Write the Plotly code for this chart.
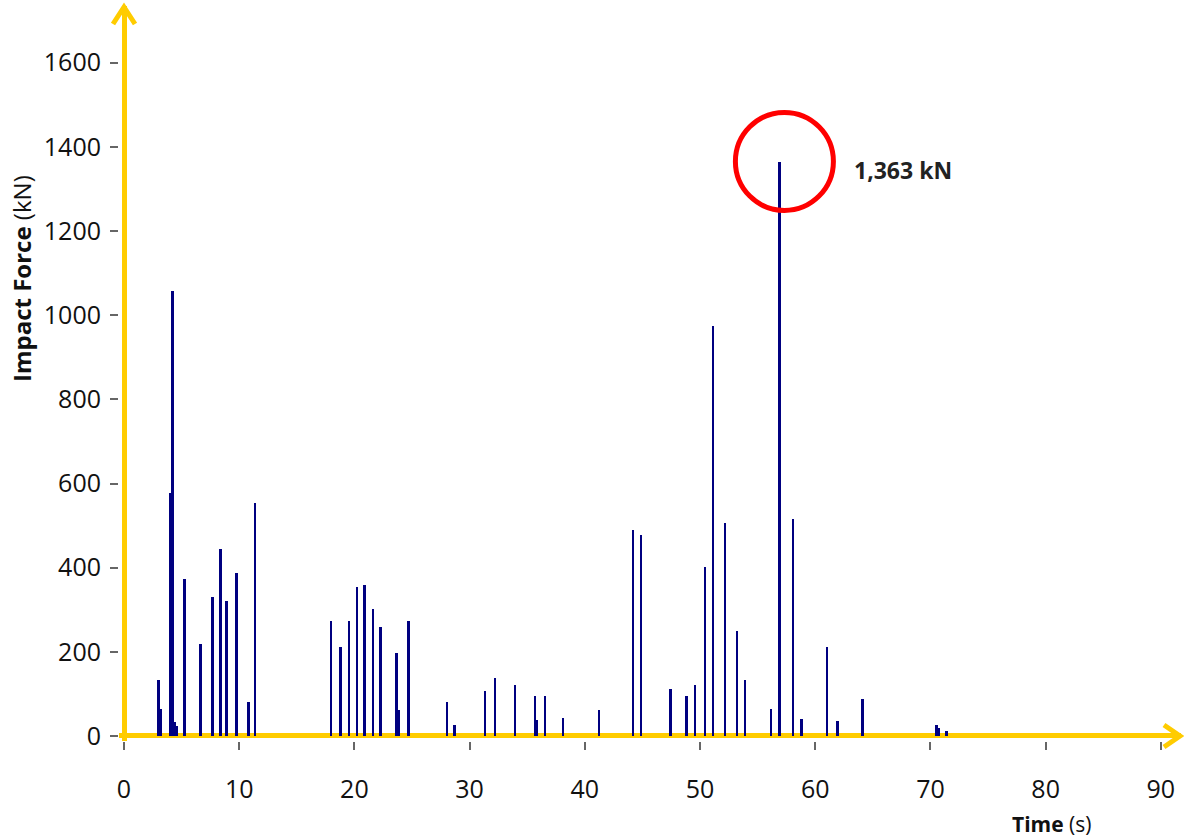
import plotly.graph_objects as go

# Pics d'effort d'impact (temps en s, effort en kN)
temps = [2.98, 3.18, 4.05, 4.19, 4.43, 4.57, 5.27, 6.63, 7.67, 8.36, 8.91, 9.75,
         10.79, 11.37, 17.97, 18.81, 19.53, 20.23, 20.89, 21.61, 22.28, 23.67,
         23.84, 24.71, 28.04, 28.71, 31.34, 32.20, 33.94, 35.68, 35.82, 36.55,
         38.11, 41.23, 44.18, 44.88, 47.45, 48.84, 49.57, 50.43, 51.13, 52.17,
         53.21, 53.91, 56.16, 56.89, 58.07, 58.80, 61.02, 61.92, 64.12, 70.54,
         70.70, 71.40]
effort = [132, 65, 578, 1057, 33, 24, 374, 218, 331, 445, 322, 388,
          80, 554, 274, 212, 274, 355, 359, 302, 260, 198,
          61, 274, 80, 27, 108, 137, 122, 94, 39, 94,
          42, 61, 490, 478, 112, 94, 122, 402, 975, 506,
          250, 132, 65, 1363, 516, 41, 212, 36, 89, 27,
          20, 13]

ticks_x = list(range(0, 91, 10))
ticks_y = list(range(0, 1601, 200))
label_pic = "1,363 kN"

JAUNE = "#FFCC00"
NAVY = "#000080"
POLICE = "Open Sans"

# géométrie (pixels)
W, H = 1184, 838
ML, MR, MT, MB = 119, 3, 6, 97
x_range = [-0.434, 91.75]
y_range = [-11.9, 1734.8]

fig = go.Figure()
fig.add_trace(go.Bar(
    x=temps, y=effort, width=0.22,
    marker=dict(color=NAVY, line=dict(width=0)),
    hoverinfo="x+y",
))

axe = dict(
    showgrid=False, showline=False, zeroline=True, automargin=False,
    zerolinecolor=JAUNE, zerolinewidth=5,
    ticks="outside", ticklen=8, tickwidth=1.5, tickcolor="#666666",
    tickfont=dict(family=POLICE, size=25, color="#111111"),
)
fig.update_xaxes(range=x_range, tickvals=ticks_x, ticklabelstandoff=18, **axe)
fig.update_yaxes(range=y_range, tickvals=ticks_y, ticklabelstandoff=4, **axe)

# pointes de flèche des axes (chevrons en pixels)
y0_paper = -y_range[0] / (y_range[1] - y_range[0])
x0_paper = -x_range[0] / (x_range[1] - x_range[0])
fig.add_shape(type="path", xref="paper", yref="paper",
              xsizemode="pixel", ysizemode="pixel",
              xanchor=1, yanchor=y0_paper,
              path="M -17,11 L -1,0 L -17,-11",
              line=dict(color=JAUNE, width=5), layer="above")
fig.add_shape(type="path", xref="paper", yref="paper",
              xsizemode="pixel", ysizemode="pixel",
              xanchor=x0_paper, yanchor=1,
              path="M -11,-18 L 0,-1 L 11,-18",
              line=dict(color=JAUNE, width=5), layer="above")

# cercle rouge autour du pic maximal
i_max = effort.index(max(effort))
fig.add_shape(type="circle", xref="x", yref="y",
              xsizemode="pixel", ysizemode="pixel",
              xanchor=temps[i_max], yanchor=effort[i_max],
              x0=-44, x1=54, y0=-48, y1=50,
              line=dict(color="#FF0000", width=5), layer="above")
fig.add_annotation(x=temps[i_max], y=effort[i_max], xref="x", yref="y",
                   text=f"<b>{label_pic}</b>", showarrow=False,
                   xanchor="left", yanchor="middle", xshift=73, yshift=-8,
                   font=dict(family=POLICE, size=23, color="#222222"))

# titres d'axes
fig.add_annotation(x=(21 - ML) / (W - ML - MR), y=(H - MB - 279) / (H - MT - MB),
                   xref="paper", yref="paper", textangle=-90,
                   text="<b>Impact Force</b> (kN)", showarrow=False,
                   xanchor="center", yanchor="middle",
                   font=dict(family=POLICE, size=24, color="#111111"))
fig.add_annotation(x=(1051 - ML) / (W - ML - MR), y=-(824 - (H - MB)) / (H - MT - MB),
                   xref="paper", yref="paper",
                   text="<b>Time</b> (s)", showarrow=False,
                   xanchor="center", yanchor="middle",
                   font=dict(family=POLICE, size=21, color="#111111"))

fig.update_layout(
    width=W, height=H,
    margin=dict(l=ML, r=MR, t=MT, b=MB, autoexpand=False),
    plot_bgcolor="white", paper_bgcolor="white",
    showlegend=False, bargap=0,
)

# la page ajoute une marge de 8 px autour du graphique : on la retire
fig.write_html("out.html", config={"displayModeBar": False},
               post_script="document.body.style.margin = '0';")
